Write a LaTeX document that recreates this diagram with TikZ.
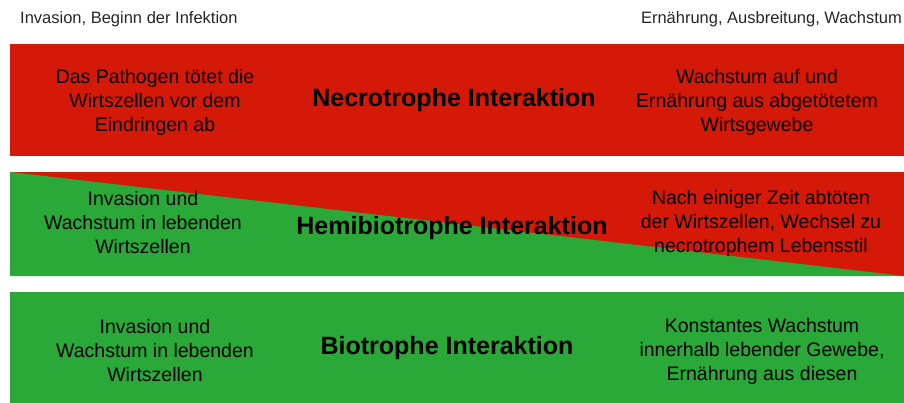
\documentclass[tikz,border=0pt]{standalone}
\usepackage{fontspec}
\setmainfont{Liberation Sans}
\definecolor{necred}{RGB}{213,25,8}
\definecolor{biogreen}{RGB}{42,168,56}

\begin{document}
\begin{tikzpicture}[x=1pt, y=-1pt,
    body/.style={align=center, inner sep=0pt, font=\fontsize{19.5}{24}\selectfont},
    title/.style={inner sep=0pt, font=\fontsize{25}{28}\selectfont\bfseries},
    header/.style={inner sep=0pt, text=black!85, font=\fontsize{16.5}{18}\selectfont}]
    \useasboundingbox (0,0) rectangle (904,403);

    % bands
    \fill[necred] (10,44) rectangle (904,156);
    \fill[necred] (10,172) rectangle (904,276);
    \fill[biogreen] (10,172) -- (904,276) -- (10,276) -- cycle;
    \fill[biogreen] (10,292) rectangle (904,403);

    % phases
    \node[header, anchor=west] (start) at (20,19) {Invasion, Beginn der Infektion};
    \node[header, anchor=east] (later) at (902,19) {Ernährung, Ausbreitung, Wachstum};

    \node[body] (necleft) at (155,102) {Das Pathogen tötet die\\Wirtszellen vor dem\\Eindringen ab};
    \node[title] (nec) at (454,100) {Necrotrophe Interaktion};
    \node[body] (necright) at (757,102) {Wachstum auf und\\Ernährung aus abgetötetem\\Wirtsgewebe};

    \node[body] (hemileft) at (143,223) {Invasion und\\Wachstum in lebenden\\Wirtszellen};
    \node[title] (hemi) at (452,228) {Hemibiotrophe Interaktion};
    \node[body] (hemiright) at (761,223) {Nach einiger Zeit abtöten\\der Wirtszellen, Wechsel zu\\necrotrophem Lebensstil};

    \node[body] (bioleft) at (155,351) {Invasion und\\Wachstum in lebenden\\Wirtszellen};
    \node[title] (bio) at (447,348) {Biotrophe Interaktion};
    \node[body] (bioright) at (762,351) {Konstantes Wachstum\\innerhalb lebender Gewebe,\\Ernährung aus diesen};
\end{tikzpicture}
\end{document}
